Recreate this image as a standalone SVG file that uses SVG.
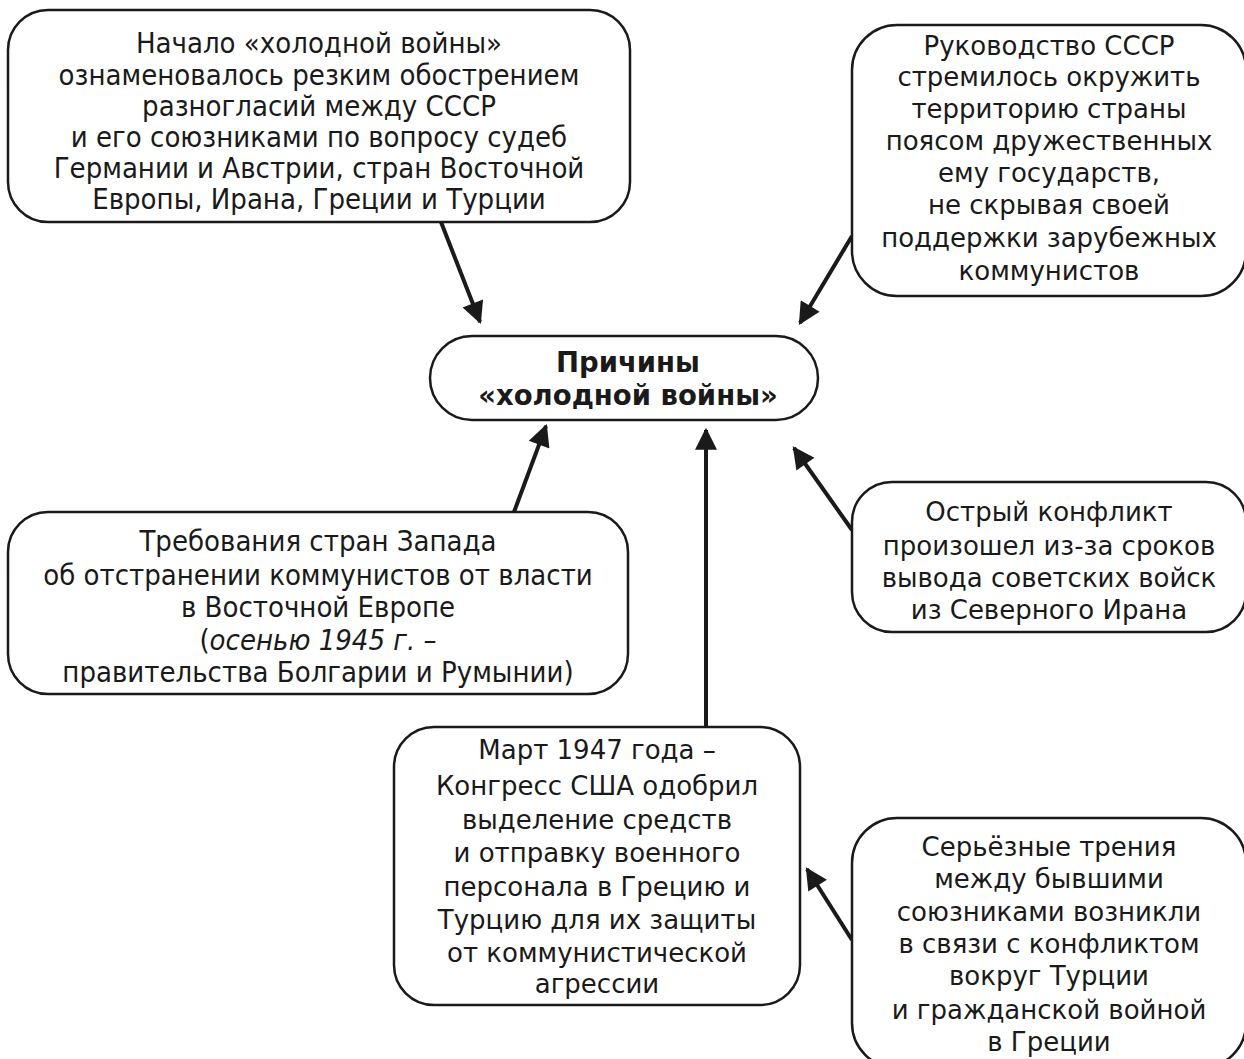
<svg xmlns="http://www.w3.org/2000/svg" width="1244" height="1059" viewBox="0 0 1244 1059">
<style>
.box{fill:#fff;stroke:#1a1a1a;stroke-width:2.5}
.t{font-family:"DejaVu Sans",Verdana,sans-serif;font-size:26px;fill:#1a1a1a;text-anchor:middle}
.tc{font-family:"DejaVu Sans Condensed","DejaVu Sans",sans-serif;font-size:29px;fill:#1a1a1a;text-anchor:middle}
.b{font-weight:bold;font-size:27.5px}
.c{stroke:#1a1a1a;stroke-width:4;fill:none}
</style>
<defs>
<marker id="ah" viewBox="0 0 10 10" refX="9" refY="5" markerWidth="6" markerHeight="5.5" markerUnits="strokeWidth" orient="auto">
<path d="M0,0 L10,5 L0,10 Z" fill="#1a1a1a"/>
</marker>
</defs>
<g id="connectors">
<line class="c" x1="441" y1="222" x2="480" y2="322" marker-end="url(#ah)"/>
<line class="c" x1="852" y1="236" x2="800" y2="323" marker-end="url(#ah)"/>
<line class="c" x1="514" y1="512" x2="546" y2="426" marker-end="url(#ah)"/>
<line class="c" x1="706" y1="727" x2="706" y2="430" marker-end="url(#ah)"/>
<line class="c" x1="852" y1="530" x2="794" y2="448" marker-end="url(#ah)"/>
<line class="c" x1="852" y1="940" x2="807" y2="869" marker-end="url(#ah)"/>
</g>
<g id="node-start">
<rect class="box" x="8" y="10" width="622" height="212" rx="40"/>
<text class="tc" x="319" y="53">Начало «холодной войны»</text>
<text class="tc" x="319" y="85">ознаменовалось резким обострением</text>
<text class="tc" x="319" y="116">разногласий между СССР</text>
<text class="tc" x="319" y="147">и его союзниками по вопросу судеб</text>
<text class="tc" x="319" y="178">Германии и Австрии, стран Восточной</text>
<text class="tc" x="319" y="209">Европы, Ирана, Греции и Турции</text>
</g>
<g id="node-ussr">
<rect class="box" x="852" y="25" width="394" height="271" rx="45"/>
<text class="t" x="1049" y="55">Руководство СССР</text>
<text class="t" x="1049" y="86">стремилось окружить</text>
<text class="t" x="1049" y="118">территорию страны</text>
<text class="t" x="1049" y="150">поясом дружественных</text>
<text class="t" x="1049" y="182">ему государств,</text>
<text class="t" x="1049" y="214">не скрывая своей</text>
<text class="t" x="1049" y="247">поддержки зарубежных</text>
<text class="t" x="1049" y="280">коммунистов</text>
</g>
<g id="node-center">
<rect class="box" x="430" y="336" width="388" height="84" rx="42"/>
<text class="t b" x="628" y="372">Причины</text>
<text class="t b" x="628" y="405">«холодной войны»</text>
</g>
<g id="node-west">
<rect class="box" x="8" y="512" width="620" height="182" rx="40"/>
<text class="tc" x="318" y="551">Требования стран Запада</text>
<text class="tc" x="318" y="585">об отстранении коммунистов от власти</text>
<text class="tc" x="318" y="617">в Восточной Европе</text>
<text class="tc" x="318" y="650">(<tspan font-style="italic">осенью 1945 г. –</tspan></text>
<text class="tc" x="318" y="682">правительства Болгарии и Румынии)</text>
</g>
<g id="node-iran">
<rect class="box" x="852" y="482" width="394" height="150" rx="40"/>
<text class="t" x="1049" y="521">Острый конфликт</text>
<text class="t" x="1049" y="555">произошел из-за сроков</text>
<text class="t" x="1049" y="587">вывода советских войск</text>
<text class="t" x="1049" y="619">из Северного Ирана</text>
</g>
<g id="node-march">
<rect class="box" x="394" y="727" width="406" height="278" rx="40"/>
<text class="t" x="597" y="759">Март 1947 года –</text>
<text class="t" x="597" y="795">Конгресс США одобрил</text>
<text class="t" x="597" y="829">выделение средств</text>
<text class="t" x="597" y="862">и отправку военного</text>
<text class="t" x="597" y="896">персонала в Грецию и</text>
<text class="t" x="597" y="929">Турцию для их защиты</text>
<text class="t" x="597" y="962">от коммунистической</text>
<text class="t" x="597" y="993">агрессии</text>
</g>
<g id="node-turkey">
<rect class="box" x="852" y="818" width="394" height="250" rx="45"/>
<text class="t" x="1049" y="856">Серьёзные трения</text>
<text class="t" x="1049" y="888">между бывшими</text>
<text class="t" x="1049" y="921">союзниками возникли</text>
<text class="t" x="1049" y="953">в связи с конфликтом</text>
<text class="t" x="1049" y="985">вокруг Турции</text>
<text class="t" x="1049" y="1019">и гражданской войной</text>
<text class="t" x="1049" y="1051">в Греции</text>
</g>
</svg>
